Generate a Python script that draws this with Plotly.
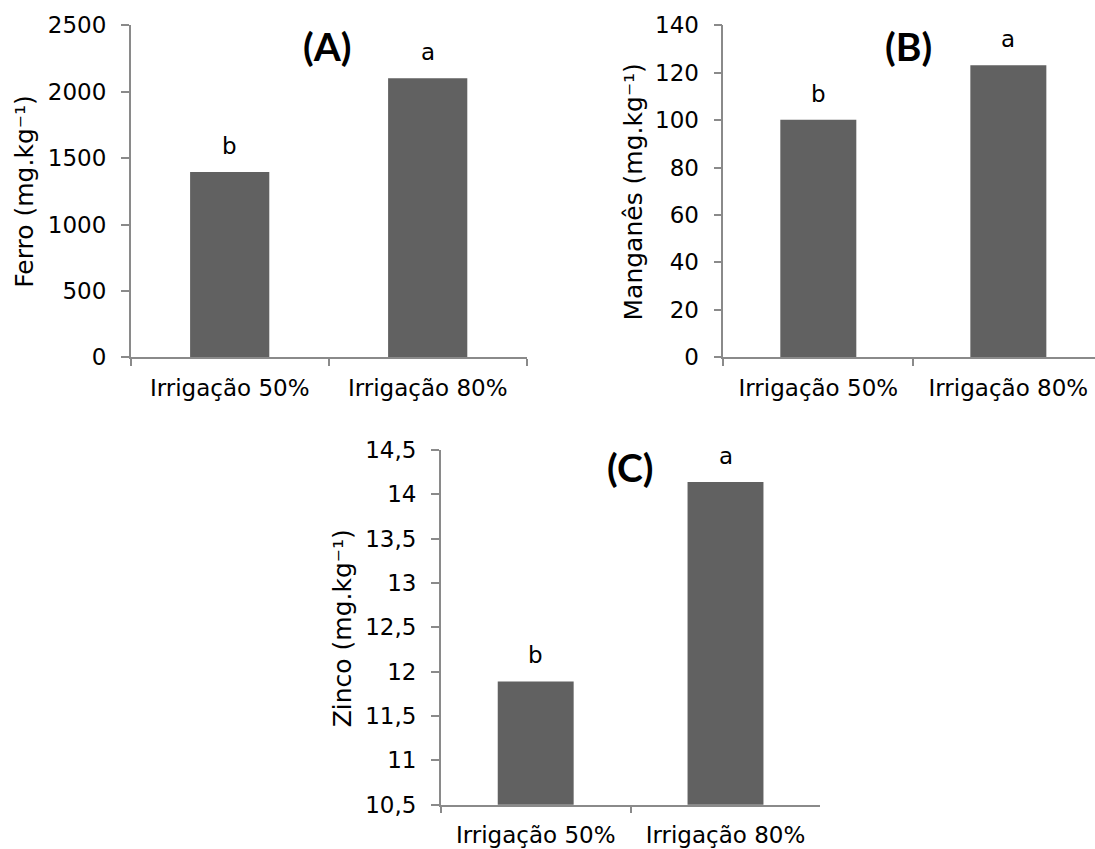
import plotly.graph_objects as go

# Treatments (shared by the three panels)
categories = ["Irrigação 50%", "Irrigação 80%"]

# Panel A - iron
ferro = [1395, 2101]
ferro_letters = ["b", "a"]
ferro_ticks = [0, 500, 1000, 1500, 2000, 2500]
ferro_ticktext = ["0", "500", "1000", "1500", "2000", "2500"]

# Panel B - manganese
manganes = [100.2, 123.1]
manganes_letters = ["b", "a"]
manganes_ticks = [0, 20, 40, 60, 80, 100, 120, 140]
manganes_ticktext = ["0", "20", "40", "60", "80", "100", "120", "140"]

# Panel C - zinc
zinco = [11.89, 14.14]
zinco_letters = ["b", "a"]
zinco_ticks = [10.5, 11, 11.5, 12, 12.5, 13, 13.5, 14, 14.5]
zinco_ticktext = ["10,5", "11", "11,5", "12", "12,5", "13", "13,5", "14", "14,5"]

W, H = 1095, 849
BAR = "#616161"
AXIS = "#8a8a8a"
TXT = "#000000"
TICK_FONT = dict(family="DejaVu Sans, Liberation Sans, sans-serif", size=23, color=TXT)
TITLE_FONT = dict(family="DejaVu Sans, Liberation Sans, sans-serif", size=25, color=TXT)
PANEL_FONT = dict(family="Lato, Open Sans, sans-serif", size=39, color=TXT, weight="bold")


def px_x(v):
    return v / W


def px_y(v):
    return 1 - v / H


fig = go.Figure()

panels = [
    ("x", "y", ferro, ferro_letters),
    ("x2", "y2", manganes, manganes_letters),
    ("x3", "y3", zinco, zinco_letters),
]
for xa, ya, vals, letters in panels:
    fig.add_trace(go.Bar(
        x=categories, y=vals, xaxis=xa, yaxis=ya,
        marker=dict(color=BAR, line=dict(width=0)),
        width=0.4, showlegend=False, hoverinfo="x+y",
    ))
    for c, v, lab in zip(categories, vals, letters):
        fig.add_annotation(
            x=c, y=v, xref=xa, yref=ya, text=lab, showarrow=False,
            yanchor="bottom", yshift=11, font=TICK_FONT,
        )

common_x = dict(
    type="category", showline=True, linecolor=AXIS, linewidth=1.5,
    ticks="outside", tickson="boundaries", ticklen=7, tickwidth=1.5,
    tickcolor=AXIS, tickfont=TICK_FONT, showgrid=False, zeroline=False,
    ticklabelstandoff=9, automargin=False,
)
common_y = dict(
    showline=True, linecolor=AXIS, linewidth=1.5, ticks="outside",
    ticklen=8, tickwidth=1.5, tickcolor=AXIS, tickfont=TICK_FONT,
    showgrid=False, zeroline=False, ticklabelstandoff=10, automargin=False,
)

fig.update_layout(
    template="none",
    width=W, height=H,
    margin=dict(l=0, r=0, t=0, b=0, pad=0, autoexpand=False),
    paper_bgcolor="white", plot_bgcolor="white",
    xaxis=dict(common_x, domain=[px_x(130.7), px_x(526.7)], range=[-0.5, 1.5], anchor="y"),
    yaxis=dict(common_y, domain=[px_y(357.3), px_y(25.3)], range=[0, 2500],
               tickvals=ferro_ticks, ticktext=ferro_ticktext, anchor="x"),
    xaxis2=dict(common_x, domain=[px_x(723.3), 1.0], range=[-0.5, 1.456], anchor="y2"),
    yaxis2=dict(common_y, domain=[px_y(357.2), px_y(25.3)], range=[0, 140],
                tickvals=manganes_ticks, ticktext=manganes_ticktext, anchor="x2"),
    xaxis3=dict(common_x, domain=[px_x(440.8), px_x(820.4)], range=[-0.5, 1.5], anchor="y3"),
    yaxis3=dict(common_y, domain=[px_y(804.7), px_y(450.0)], range=[10.5, 14.5],
                tickvals=zinco_ticks, ticktext=zinco_ticktext, anchor="x3"),
)

# Axis titles
y_titles = [
    ("Ferro (mg.kg⁻¹)", 24.2, 191.5),
    ("Manganês (mg.kg⁻¹)", 633.8, 191.7),
    ("Zinco (mg.kg⁻¹)", 342.0, 628.3),
]
for text, cx, cy in y_titles:
    fig.add_annotation(
        x=px_x(cx), y=px_y(cy), xref="paper", yref="paper", text=text,
        textangle=-90, showarrow=False, xanchor="center", yanchor="middle",
        font=TITLE_FONT,
    )

# Panel labels
for text, cx, cy in [("(A)", 327, 46), ("(B)", 908.5, 46), ("(C)", 629.5, 467)]:
    fig.add_annotation(
        x=px_x(cx), y=px_y(cy), xref="paper", yref="paper", text=text,
        showarrow=False, xanchor="center", yanchor="middle", font=PANEL_FONT,
    )

fig.write_html("out.html")
